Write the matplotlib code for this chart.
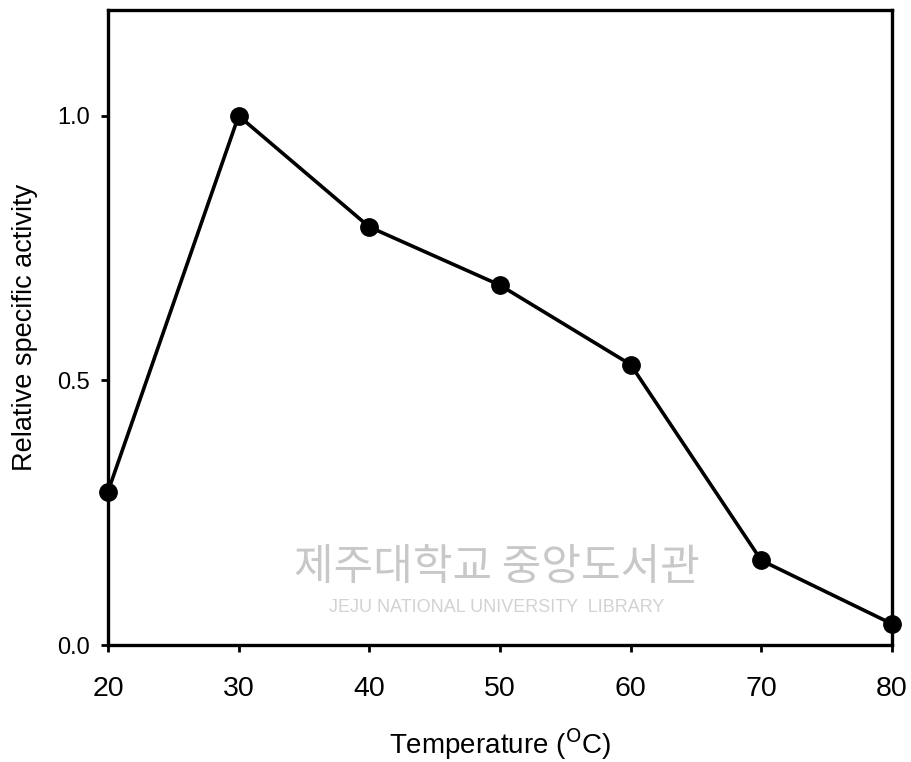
import matplotlib.pyplot as plt

# Data
temperature = [20, 30, 40, 50, 60, 70, 80]
activity = [0.29, 1.0, 0.79, 0.68, 0.53, 0.16, 0.04]

x_ticks = [20, 30, 40, 50, 60, 70, 80]
y_ticks = [0.0, 0.5, 1.0]

plt.rcParams['font.family'] = ['Liberation Sans', 'DejaVu Sans']

fig = plt.figure(figsize=(9.12, 7.62), dpi=100)
ax = fig.add_axes([0.1184, 0.1535, 0.8596, 0.8334])

ax.plot(temperature, activity, color='black', linewidth=2.6,
        marker='o', markersize=12.5, clip_on=False, zorder=3)

ax.set_xlim(20, 80)
ax.set_ylim(0, 1.2)
ax.set_xticks(x_ticks)
ax.set_yticks(y_ticks)
ax.set_yticklabels(['0.0', '0.5', '1.0'])

for s in ax.spines.values():
    s.set_linewidth(2.4)

ax.tick_params(axis='x', direction='out', length=5, width=2, labelsize=20.5, pad=17)
ax.tick_params(axis='y', direction='out', length=5, width=2, labelsize=17, pad=8)

ax.set_xlabel('Temperature ($^{\\mathrm{O}}$C)', fontsize=20, labelpad=18)
ax.set_ylabel('Relative specific activity', fontsize=19.5, labelpad=14)

# library watermark
fig.text(0.545, 0.255, '제주대학교 중앙도서관', family=['Noto Sans CJK KR', 'DejaVu Sans'],
         fontsize=31, color='#c8c8c8', ha='center', va='center', zorder=0)
fig.text(0.545, 0.203, 'JEJU NATIONAL UNIVERSITY  LIBRARY', fontsize=13,
         color='#d2d2d2', ha='center', va='center', zorder=0)

fig.savefig('out.png', dpi=100)
